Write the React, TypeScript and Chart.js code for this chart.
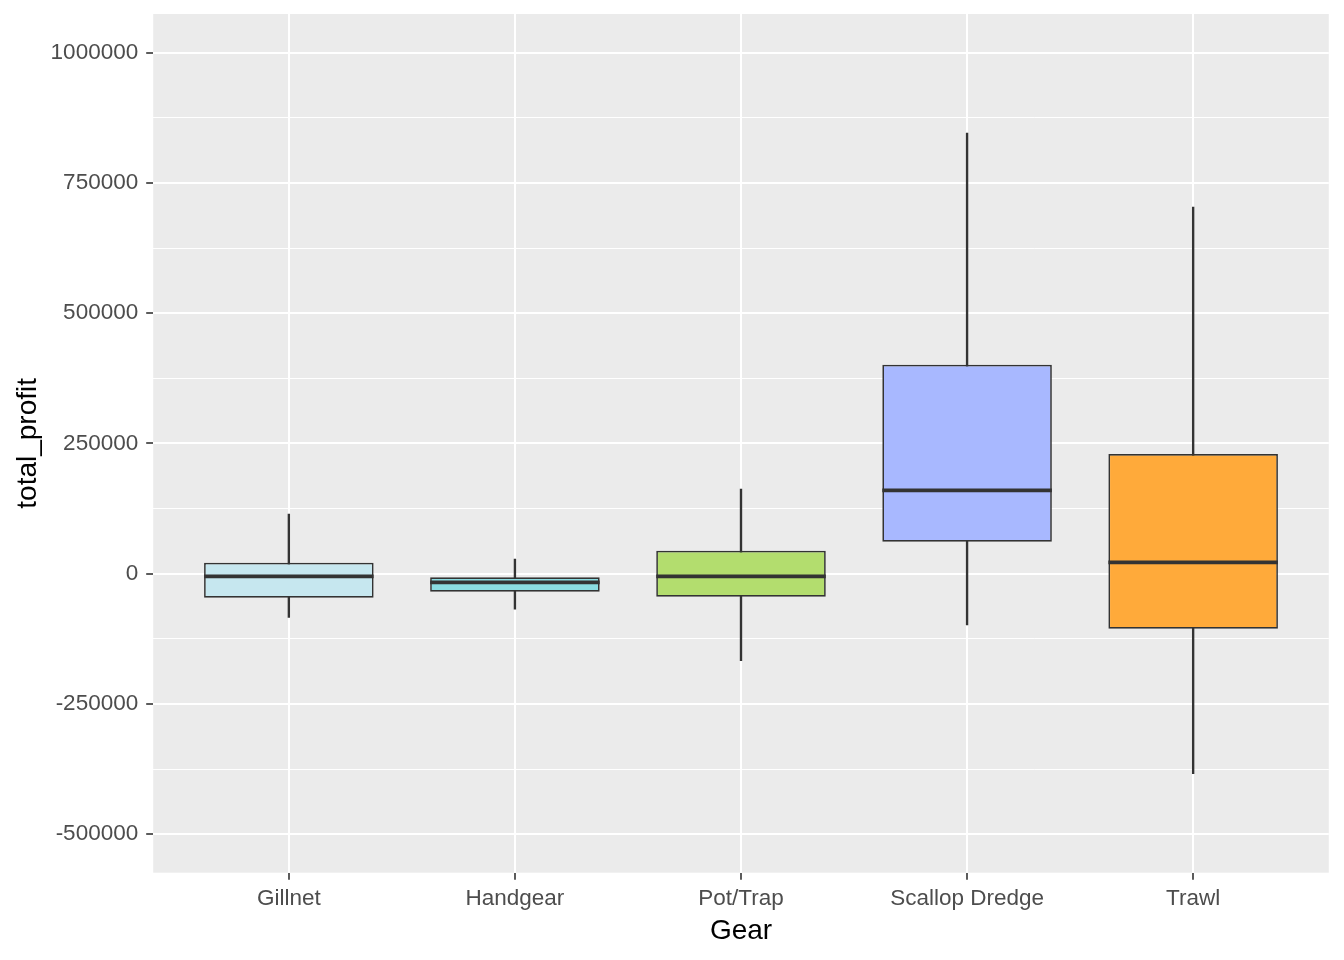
// Boxplot of total_profit by gear, drawn with Chart.js floating bars.
// Boxes and whiskers are floating bars on a linear x scale; medians and the
// grey panel come from two small plugins that read the chart's own scales.

import { useEffect, useRef } from 'react';
import { Chart, registerables } from 'chart.js';

Chart.register(...registerables);

const gears = ['Gillnet', 'Handgear', 'Pot/Trap', 'Scallop Dredge', 'Trawl'];
const whiskerLow = [-83700, -68300, -167000, -98500, -383900];
const boxLow = [-46100, -34500, -44100, 61400, -105600];
const medians = [-5000, -16500, -5000, 160100, 21900];
const boxHigh = [21100, -6900, 44100, 401200, 229800];
const whiskerHigh = [114600, 28200, 162600, 845900, 703900];
const fills = ['#C6E7EF', '#8BDCE1', '#B3DD6E', '#A8B8FF', '#FFAA3A'];

const yMajorTicks = [-500000, -250000, 0, 250000, 500000, 750000, 1000000];
const yMinorTicks = [-375000, -125000, 125000, 375000, 625000, 875000];

const INK = '#333333';
const PANEL = '#EBEBEB';
const FONT = "'Liberation Sans', Arial, sans-serif";

const panelPlugin = {
  id: 'panel',
  beforeDraw(chart: Chart) {
    const { ctx, chartArea } = chart;
    ctx.save();
    ctx.fillStyle = PANEL;
    ctx.fillRect(chartArea.left, chartArea.top, chartArea.width, chartArea.height);
    ctx.restore();
  },
};

const medianPlugin = {
  id: 'medians',
  afterDatasetsDraw(chart: Chart) {
    const { ctx } = chart;
    const meta = chart.getDatasetMeta(0);
    const yScale = chart.scales.y;
    ctx.save();
    ctx.strokeStyle = INK;
    ctx.lineWidth = 3.8;
    meta.data.forEach((bar: any, i: number) => {
      const { x, width } = bar.getProps(['x', 'width'], true);
      const py = yScale.getPixelForValue(medians[i]);
      ctx.beginPath();
      ctx.moveTo(x - width / 2, py);
      ctx.lineTo(x + width / 2, py);
      ctx.stroke();
    });
    ctx.restore();
  },
};

export default function App() {
  const canvasRef = useRef<HTMLCanvasElement>(null);

  useEffect(() => {
    const canvas = canvasRef.current;
    if (!canvas) return;

    const isMajor = (v: number) => yMajorTicks.includes(v);

    const chart = new Chart(canvas, {
      type: 'bar',
      data: {
        datasets: [
          {
            data: gears.map((_, i) => ({ x: i + 1, y: [boxLow[i], boxHigh[i]] })),
            backgroundColor: fills,
            borderColor: INK,
            borderWidth: 1.7,
            borderSkipped: false,
            grouped: false,
            categoryPercentage: 1,
            barPercentage: 0.75,
          },
          {
            data: gears.map((_, i) => ({ x: i + 1, y: [whiskerLow[i], whiskerHigh[i]] })),
            backgroundColor: INK,
            borderWidth: 0,
            grouped: false,
            barThickness: 1.7,
          },
        ],
      } as any,
      options: {
        responsive: false,
        animation: false,
        devicePixelRatio: 1,
        layout: { padding: { top: 14, right: 15.2, left: 0, bottom: 0 } },
        plugins: {
          legend: { display: false },
          tooltip: { enabled: false },
          title: { display: false },
        },
        scales: {
          x: {
            type: 'linear',
            min: 0.4,
            max: 5.6,
            offset: false,
            afterBuildTicks: (s: any) => {
              s.ticks = gears.map((_, i) => ({ value: i + 1 }));
            },
            afterFit: (s: any) => {
              s.height = 87.3;
              s.paddingLeft = 0;
              s.paddingRight = 0;
            },
            border: { display: false },
            grid: {
              offset: false,
              color: '#FFFFFF',
              lineWidth: 2,
              tickLength: 7,
              tickColor: INK,
              tickWidth: 1.6,
            },
            ticks: {
              autoSkip: false,
              maxRotation: 0,
              padding: 6,
              color: '#4D4D4D',
              font: { family: FONT, size: 22.5 },
              callback: (v: any) => gears[Number(v) - 1] ?? '',
            },
            title: {
              display: true,
              text: 'Gear',
              color: '#000000',
              font: { family: FONT, size: 28 },
              padding: { top: 0, bottom: 11.5 },
            },
          },
          y: {
            type: 'linear',
            min: -573900,
            max: 1074300,
            afterBuildTicks: (s: any) => {
              s.ticks = [...yMajorTicks, ...yMinorTicks]
                .sort((a, b) => a - b)
                .map((v) => ({ value: v }));
            },
            afterFit: (s: any) => {
              s.width = 153.2;
              s.paddingTop = 0;
              s.paddingBottom = 0;
            },
            border: { display: false },
            grid: {
              color: '#FFFFFF',
              lineWidth: (c: any) => (isMajor(c.tick?.value) ? 2 : 1),
              tickLength: 7,
              tickColor: (c: any) => (isMajor(c.tick?.value) ? INK : 'rgba(0,0,0,0)'),
              tickWidth: (c: any) => (isMajor(c.tick?.value) ? 1.6 : 0),
            },
            ticks: {
              autoSkip: false,
              padding: 8,
              color: '#4D4D4D',
              font: { family: FONT, size: 22.5 },
              callback: (v: any) => (isMajor(Number(v)) ? String(v) : ''),
            },
            title: {
              display: true,
              text: 'total_profit',
              color: '#000000',
              font: { family: FONT, size: 28 },
              padding: { top: 11, bottom: 0 },
            },
          },
        },
      } as any,
      plugins: [panelPlugin, medianPlugin],
    });

    return () => chart.destroy();
  }, []);

  return (
    <div style={{ position: 'absolute', left: 0, top: 0, width: 1344, height: 960, background: '#FFFFFF' }}>
      <canvas ref={canvasRef} width={1344} height={960} style={{ width: 1344, height: 960 }} />
    </div>
  );
}
